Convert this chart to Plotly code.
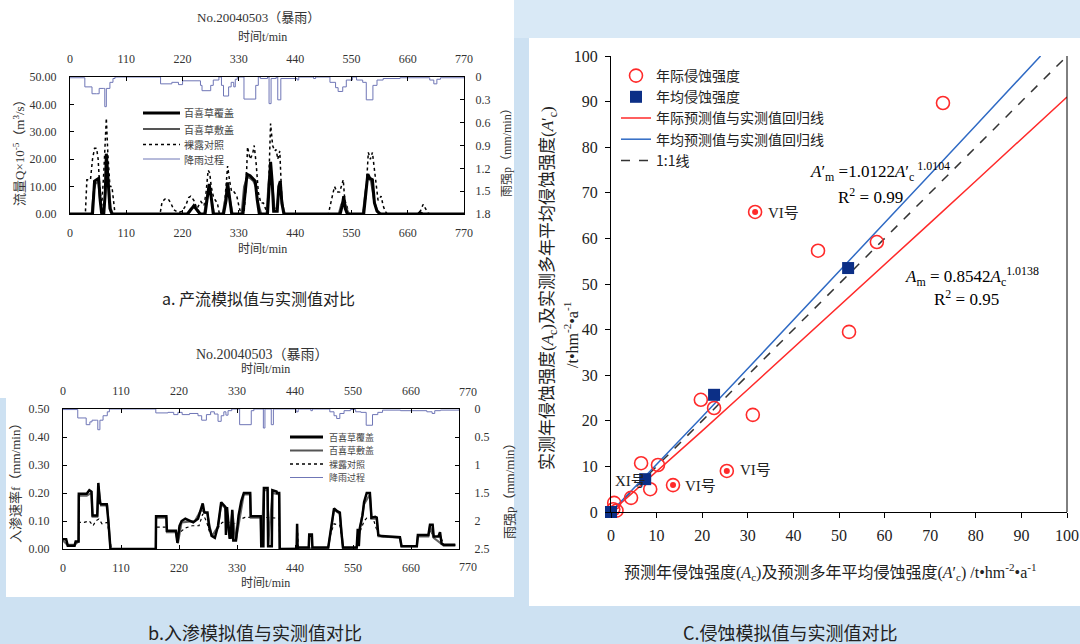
import plotly.graph_objects as go

W, H = 1080, 644

# ---------------- chart a: runoff (t/min, Q x1e-5 m3/s) ----------------
a_cover = [(0,0),(44,0),(46,6),(48,12),(52,12.5),(56,13),(59,5),(62,0),(66,0),(69,8),(71,22),(74,13),(78,2),(82,0),
           (230,0),(236,1.5),(242,3),(248,1.5),(254,0),(264,0),(268,5),(272,11),(276,6),(280,0),(300,0),(305,5),(308,11.5),(312,6),(316,0),
           (338,0),(342,8),(346,14.5),(352,14),(358,13),(362,12),(366,5),(370,0),(386,0),(389,10),(392,19),(395,12),(398,1),(405,1),(408,10),(411,12),(414,4),(418,0),
           (528,0),(532,3),(535,6.5),(538,2),(542,0),(574,0),(578,7),(582,14.5),(586,13),(591,12.5),(595,4),(600,1),(606,0),(680,0),(684,0.5),(690,0),(770,0)]
a_mulch = [(0,0),(42,0),(46,8),(50,11),(55,12),(58,6),(62,1),(66,0),(70,12),(72,20),(76,10),(80,2),(84,0),
           (228,0),(236,2),(242,2.5),(250,1.5),(256,0),(262,0),(267,6),(272,10),(277,5),(282,0),(298,0),(303,6),(308,10.5),(313,5),(318,0),
           (335,0),(340,10),(346,13.5),(352,13),(358,12),(363,10),(368,4),(374,0),(384,0),(388,12),(392,18),(396,11),(400,2),(404,2),(408,9),(411,11),(416,3),(420,0),
           (525,0),(530,3.5),(535,5),(540,2.5),(545,0),(572,0),(577,8),(582,13.5),(588,12),(594,5),(600,1.5),(608,0),(770,0)]
a_bare = [(0,0),(30,0),(33,12.5),(40,12.5),(44,20),(48,24),(52,24),(55,20),(58,10),(62,3),(66,15),(68,25),(71,35),(74,22),(78,10),(82,10),(85,5),(88,0),
          (176,0),(180,4.5),(186,5.5),(192,5.5),(197,4),(203,1.5),(212,0.5),(219,1),(226,3),(232,6),(236,6.5),(242,5),(248,2),(252,3.5),(256,4.5),(262,3),(266,8),(270,16),(273,15),(276,10),(280,6.5),(284,5),(288,4),(292,0),
          (300,0),(304,8),(308,17.5),(312,12),(316,8),(321,8),(326,6.5),(330,3),(334,0),(340,0),(344,10),(347,24.5),(352,20),(357,22),(360,25),(364,18),(368,8),(373,4),(378,4),(382,2),(386,0),
          (389,15),(392,33),(396,25),(400,23),(403,23.5),(406,20),(410,23),(414,5),(418,0),
          (505,0),(512,6),(517,10),(522,8),(527,8),(534,12.5),(537,5),(541,3),(545,0),(572,0),(578,6),(583,22.5),(587,20),(591,22.5),(596,15),(602,5),(608,6.5),(612,3),(616,1),(620,0),
          (680,0),(686,1.5),(690,3.5),(695,2),(700,0.3),(705,0),(770,0)]
a_rain = [(0,0.01),(29,0.13),(43,0.22),(52,0.22),(57,0.15),(65,0.15),(68,0.39),(71,0.15),(78,0.07),(84,0.02),(88,0.0),
          (177,0.09),(199,0.07),(212,0.10),(220,0.05),(255,0.11),(258,0.18),(275,0.11),(280,0.04),(291,0.0),(296,0.11),(300,0.25),
          (310,0.13),(315,0.07),(320,0.13),(323,0.03),(327,0.0),(340,0.29),(363,0.11),(368,0.0),(372,0.02),(386,0.0),(389,0.35),
          (393,0.02),(403,0.0),(406,0.30),(412,0.02),(444,0.04),(447,0.0),(476,0.02),(480,0.0),(508,0.07),(519,0.14),(524,0.19),
          (533,0.13),(540,0.04),(552,0.0),(560,0.04),(572,0.07),(579,0.30),(592,0.11),(600,0.04),(612,0.02),(645,0.01),(703,0.04),
          (711,0.09),(717,0.03),(724,0.01),(770,0.01)]

# ---------------- chart b: infiltration (t/min, f mm/min) ----------------
b_cover = [(0,0.035),(6,0.035),(9,0.012),(22,0.012),(24,0.027),(29.5,0.027),(30,0.197),(45,0.197),(50,0.21),(54,0.205),(56,0.12),(65,0.12),
           (67,0.236),(70,0.165),(72,0.16),(83,0.16),(86,0.1),(90,0),(176,0),(176.5,0.117),(196,0.117),(197,0.065),(214,0.065),(217,0.022),
           (221,0.083),(225,0.1),(232,0.108),(240,0.1),(247,0.095),(256,0.108),(262,0.145),(265,0.163),(268,0.13),(274,0.13),(277,0.08),
           (282,0.047),(288,0.04),(294,0.083),(300,0.167),(306,0.155),(308,0.15),(309,0.05),(311,0.15),(316,0.04),(318,0.04),(321,0.14),
           (323,0.03),(328,0.03),(333,0.12),(338,0.17),(343,0.2),(355,0.2),(356,0.117),(375,0.117),(376,0.01),(380,0.01),(381,0.218),
           (388,0.218),(389,0.01),(396,0.01),(397,0.21),(405,0.205),(406,0.2),(410,0.2),(411,0),(443,0),(444,0.09),(445,0.0),(446,0.005),
           (466,0.005),(467,0.052),(472,0.052),(473,0.005),(503,0.005),(507,0.06),(514,0.145),(520,0.135),(525,0.13),(528,0.06),(531,0.005),
           (557,0.005),(559,0.072),(561,0.01),(563,0.075),(568,0.12),(571,0.168),(576,0.2),(582,0.2),(585,0.112),(592,0.115),(595,0.112),
           (598,0.05),(604,0.046),(639,0.042),(642,0.01),(671,0.01),(673,0.05),(693,0.05),(696,0.087),(701,0.087),(703,0.045),(712,0.045),
           (715,0.06),(718,0.02),(722,0.015),(744,0.015)]
b_mulch = [(0,0.03),(8,0.015),(22,0.015),(29.5,0.027),(30,0.19),(45,0.19),(54,0.2),(56,0.115),(65,0.115),(67,0.225),(72,0.155),(84,0.155),
           (90,0),(176,0),(176.5,0.112),(196,0.112),(197,0.06),(214,0.06),(218,0.02),(225,0.095),(250,0.1),(262,0.14),(274,0.125),(282,0.045),
           (294,0.08),(300,0.16),(308,0.145),(316,0.04),(321,0.135),(328,0.03),(343,0.195),(355,0.195),(356,0.112),(375,0.112),(376,0.01),
           (381,0.21),(388,0.21),(389,0.01),(397,0.2),(410,0.195),(411,0),(503,0.004),(514,0.14),(525,0.125),(531,0.004),(557,0.004),
           (571,0.16),(582,0.195),(585,0.108),(595,0.108),(598,0.045),(639,0.04),(642,0.01),(671,0.01),(673,0.045),(693,0.045),(696,0.082),
           (703,0.04),(722,0.012),(744,0.012)]
b_bare = [(0,0.035),(6,0.035),(9,0.012),(22,0.012),(24,0.027),(29.5,0.027),(30,0.095),(40,0.095),(50,0.1),(57,0.083),(62,0.1),(68,0.107),
          (74,0.09),(84,0.095),(88,0.05),(91.5,0),(176,0),(176.5,0.078),(196,0.078),(197,0.062),(214,0.062),(218,0.03),(222,0.06),(232,0.075),
          (245,0.083),(258,0.083),(265,0.125),(272,0.1),(278,0.06),(285,0.045),(294,0.075),(302,0.095),(315,0.095),(325,0.09),(335,0.105),
          (345,0.113),(380,0.113),(410,0.11),(411,0),(443,0),(445,0.06),(446,0.005),(466,0.005),(467,0.045),(472,0.045),(473,0.005),
          (503,0.005),(507,0.05),(514,0.09),(525,0.085),(531,0.005),(557,0.005),(563,0.06),(571,0.1),(576,0.11),(588,0.11),(594,0.074),
          (600,0.045),(604,0.045),(639,0.04),(642,0.01),(671,0.01),(673,0.045),(693,0.045),(696,0.07),(703,0.04),(715,0.05),(722,0.015),(744,0.015)]
b_rain = [(0,0.01),(28,0.16),(44,0.28),(51,0.23),(55,0.2),(64,0.2),(66,0.37),(70,0.2),(76,0.12),(84,0.05),(88,0.0),(176,0.07),(199,0.06),
          (210,0.1),(218,0.06),(226,0.1),(240,0.08),(256,0.12),(263,0.2),(272,0.1),(280,0.05),(287,0.09),(294,0.22),(300,0.12),(305,0.05),
          (309,0.11),(313,0.03),(320,0.0),(335,0.28),(357,0.03),(362,0.0),(380,0.34),(383,0.0),(395,0.28),(399,0.0),(442,0.05),(446,0.0),
          (470,0.03),(473,0.0),(506,0.05),(514,0.12),(519,0.17),(525,0.08),(533,0.03),(545,0.01),(555,0.05),(565,0.06),(575,0.29),(587,0.1),
          (597,0.06),(606,0.02),(640,0.03),(690,0.05),(700,0.08),(705,0.03),(716,0.02),(751,0.01)]

time_ticks = [0, 110, 220, 330, 440, 550, 660, 770]
a_q_ticks = [0, 10, 20, 30, 40, 50]
a_q_labels = ["0.00", "10.00", "20.00", "30.00", "40.00", "50.00"]
a_p_ticks = [0, 0.3, 0.6, 0.9, 1.2, 1.5, 1.8]
a_p_labels = ["0", "0.3", "0.6", "0.9", "1.2", "1.5", "1.8"]
b_f_ticks = [0, 0.1, 0.2, 0.3, 0.4, 0.5]
b_f_labels = ["0.00", "0.10", "0.20", "0.30", "0.40", "0.50"]
b_p_ticks = [0, 0.5, 1, 1.5, 2, 2.5]
b_p_labels = ["0", "0.5", "1", "1.5", "2", "2.5"]

# ---------------- chart c: erosion ----------------
c_annual_x = [72.8, 31.6, 45.4, 58.3, 52.2, 31.1, 19.7, 22.6, 6.6, 10.3, 8.6, 4.4, 0.7, 0.5, 1.2, 13.6, 25.4]
c_annual_y = [89.7, 65.8, 57.3, 59.2, 39.5, 21.3, 24.6, 22.8, 10.7, 10.3, 5.0, 3.1, 2.0, 0.6, 0.3, 5.9, 9.0]
c_special_x = [31.6, 13.6, 25.4]
c_special_y = [65.8, 5.9, 9.0]
c_mean_x = [0, 7.5, 22.6, 52.0]
c_mean_y = [0, 7.2, 25.7, 53.5]
c_fit_x = [0, 10, 20, 30, 40, 50, 60, 70, 80, 90, 100]
c_fit_annual_y = [0, 8.82, 17.80, 26.86, 35.95, 45.08, 54.23, 63.41, 72.59, 81.81, 91.02]
c_fit_mean_x = [0, 10, 20, 30, 40, 50, 60, 70, 80, 90, 94.2]
c_fit_mean_y = [0, 10.37, 20.88, 31.46, 42.07, 52.71, 63.37, 74.06, 84.75, 95.46, 100]
c_one_x = [0, 100]
c_one_y = [0, 100]
c_ticks = [0, 10, 20, 30, 40, 50, 60, 70, 80, 90, 100]


def split(pairs):
    return [p[0] for p in pairs], [p[1] for p in pairs]


def X(v):
    return v / W


def Y(v):
    return 1 - v / H


SERIF = "Liberation Serif, Noto Sans CJK SC, serif"
CJK = "Noto Sans CJK SC, sans-serif"
RAIN = "#6f76b6"

fig = go.Figure()

def line_trace(pairs, xa, ya, color, width, dash="solid", shape="linear"):
    t, v = split(pairs)
    fig.add_trace(go.Scatter(x=t, y=v, mode="lines", xaxis=xa, yaxis=ya,
                             line=dict(color=color, width=width, dash=dash, shape=shape),
                             showlegend=False, hoverinfo="skip"))

# chart a
line_trace(a_rain, "x2", "y2", RAIN, 1, shape="hv")
line_trace(a_bare, "x", "y", "black", 1.5, dash="dot")
line_trace(a_mulch, "x", "y", "#555555", 1.8)
line_trace(a_cover, "x", "y", "black", 3)
# chart b
line_trace(b_rain, "x4", "y4", RAIN, 1, shape="hv")
line_trace(b_bare, "x3", "y3", "black", 1.2, dash="dot")
line_trace(b_mulch, "x3", "y3", "#666666", 2)
line_trace(b_cover, "x3", "y3", "black", 2.5)

# chart c
fig.add_trace(go.Scatter(x=c_one_x, y=c_one_y, mode="lines", xaxis="x5", yaxis="y5", name="1:1线",
                         line=dict(color="#333333", width=1.5, dash="dash"), legendrank=5, hoverinfo="skip"))
fig.add_trace(go.Scatter(x=c_fit_x, y=c_fit_annual_y, mode="lines", xaxis="x5", yaxis="y5", name="年际预测值与实测值回归线",
                         line=dict(color="#ff2a2a", width=1.5), legendrank=3, hoverinfo="skip"))
fig.add_trace(go.Scatter(x=c_fit_mean_x, y=c_fit_mean_y, mode="lines", xaxis="x5", yaxis="y5", name="年均预测值与实测值回归线",
                         line=dict(color="#2f6ac4", width=1.5), legendrank=4, hoverinfo="skip"))
fig.add_trace(go.Scatter(x=c_annual_x, y=c_annual_y, mode="markers", xaxis="x5", yaxis="y5", name="年际侵蚀强度",
                         marker=dict(symbol="circle-open", size=13, color="#ff2a2a", line=dict(width=1.6)),
                         legendrank=1, hoverinfo="skip", cliponaxis=False))
fig.add_trace(go.Scatter(x=c_special_x, y=c_special_y, mode="markers", xaxis="x5", yaxis="y5",
                         marker=dict(symbol="circle", size=6, color="#ff2a2a"), showlegend=False, hoverinfo="skip"))
fig.add_trace(go.Scatter(x=c_mean_x, y=c_mean_y, mode="markers", xaxis="x5", yaxis="y5", name="年均侵蚀强度",
                         marker=dict(symbol="square", size=12, color="#0c2f86"), legendrank=2, hoverinfo="skip",
                         cliponaxis=False))

left_ax = dict(showline=True, linecolor="black", linewidth=1, ticks="inside", ticklen=4, tickcolor="black",
               showgrid=False, zeroline=False, automargin=False,
               tickfont=dict(family=SERIF, size=12, color="#333333"))
c_ax = dict(showline=True, linecolor="black", linewidth=1, ticks="outside", ticklen=5, tickcolor="black",
            showgrid=False, zeroline=False, automargin=False, ticklabelstandoff=4,
            tickfont=dict(family=SERIF, size=16, color="#222222"))

fig.update_layout(
    width=W, height=H, margin=dict(l=0, r=0, t=0, b=0, autoexpand=False),
    paper_bgcolor="#cde1f2", plot_bgcolor="white",
    showlegend=True,
    legend=dict(x=X(616), y=Y(60), xanchor="left", yanchor="top", bgcolor="rgba(0,0,0,0)",
                font=dict(family=CJK, size=14, color="#222222"), tracegroupgap=0),
    # chart a
    xaxis=dict(domain=[X(70), X(464)], anchor="y", range=[0, 770], tickvals=time_ticks, ticklabelstandoff=8, **left_ax),
    xaxis2=dict(domain=[X(70), X(464)], anchor="y2", overlaying="x", side="top", range=[0, 770], tickvals=time_ticks,
                ticklabelstandoff=8, **left_ax),
    yaxis=dict(domain=[Y(214), Y(77)], anchor="x", range=[0, 50], tickvals=a_q_ticks, ticktext=a_q_labels,
               ticklabelstandoff=10, **left_ax),
    yaxis2=dict(domain=[Y(214), Y(77)], anchor="x2", overlaying="y", side="right", range=[1.8, 0],
                tickvals=a_p_ticks, ticktext=a_p_labels, ticklabelstandoff=8, **left_ax),
    # chart b
    xaxis3=dict(domain=[X(63), X(459)], anchor="y3", range=[0, 751], tickvals=time_ticks[:-1], ticklabelstandoff=8, **left_ax),
    xaxis4=dict(domain=[X(63), X(459)], anchor="y4", overlaying="x3", side="top", range=[0, 751], tickvals=time_ticks[:-1],
                ticklabelstandoff=8, **left_ax),
    yaxis3=dict(domain=[Y(549), Y(409)], anchor="x3", range=[0, 0.5], tickvals=b_f_ticks, ticktext=b_f_labels,
                ticklabelstandoff=10, **left_ax),
    yaxis4=dict(domain=[Y(549), Y(409)], anchor="x4", overlaying="y3", side="right", range=[2.5, 0],
                tickvals=b_p_ticks, ticktext=b_p_labels, ticklabelstandoff=12, **left_ax),
    # chart c
    xaxis5=dict(domain=[X(611), X(1067)], anchor="y5", range=[0, 100], tickvals=c_ticks, **c_ax),
    yaxis5=dict(domain=[Y(512), Y(56)], anchor="x5", range=[0, 100], tickvals=c_ticks, **c_ax),
)

shapes = [
    dict(type="rect", xref="paper", yref="paper", x0=X(0), x1=X(514), y0=Y(597), y1=Y(0),
         fillcolor="white", line=dict(width=0), layer="below"),
    dict(type="rect", xref="paper", yref="paper", x0=X(0), x1=X(6), y0=Y(597), y1=Y(398),
         fillcolor="#cde1f2", line=dict(width=0), layer="below"),
    dict(type="rect", xref="paper", yref="paper", x0=X(529), x1=X(1080), y0=Y(606), y1=Y(38),
         fillcolor="white", line=dict(width=0), layer="below"),
    dict(type="rect", xref="paper", yref="paper", x0=X(514), x1=X(1080), y0=Y(38), y1=Y(0),
         fillcolor="#d9e9f6", line=dict(width=0), layer="below"),
    dict(type="line", xref="paper", yref="paper", x0=X(1067), x1=X(1067), y0=Y(512), y1=Y(56),
         line=dict(color="black", width=1)),
]

annots = []

def txt(text, x, y, size=12, family=CJK, color="#333333", angle=0, xanchor="center"):
    annots.append(dict(text=text, x=X(x), y=Y(y), xref="paper", yref="paper", showarrow=False,
                       font=dict(family=family, size=size, color=color), textangle=angle,
                       xanchor=xanchor, yanchor="middle"))

# manual legends for charts a and b
legend_names = ["百喜草覆盖", "百喜草敷盖", "裸露对照", "降雨过程"]
legend_styles = [("black", 3, "solid"), ("#555555", 2, "solid"), ("black", 1.5, "dot"), (RAIN, 1, "solid")]
for (lx0, lx1, tx, rows, fs) in [(143, 180, 182, [113, 129, 144.5, 159], 10),
                                  (290, 323, 327, [437, 450.5, 464, 477.5], 9)]:
    for name, (col, wd, ds), ry in zip(legend_names, legend_styles, rows):
        shapes.append(dict(type="line", xref="paper", yref="paper", x0=X(lx0), x1=X(lx1), y0=Y(ry), y1=Y(ry),
                           line=dict(color=col, width=wd, dash=ds)))
        txt(name, tx, ry, size=fs, color="#444444", xanchor="left")

# chart a texts
txt("No.20040503（暴雨）", 258, 17, size=13, family=SERIF)
txt("时间t/min", 262, 37, size=12, family=SERIF)
txt("时间t/min", 262, 249, size=12, family=SERIF)
txt("流量Q×10<sup>-5</sup>（m<sup>3</sup>/s）", 19, 150, size=13, family=SERIF, angle=-90)
txt("雨强p（mm/min）", 507, 150, size=12, family=SERIF, angle=-90)
txt("a. 产流模拟值与实测值对比", 258, 298, size=16, color="#222222")

# chart b texts
txt("No.20040503（暴雨）", 262, 354, size=14, family=SERIF)
txt("时间t/min", 265, 369, size=12, family=SERIF)
txt("770", 468, 392, size=12, family=SERIF)
txt("770", 468, 567, size=12, family=SERIF)
txt("时间t/min", 265, 583, size=12, family=SERIF)
txt("入渗速率f（mm/min）", 15, 480, size=13, family=SERIF, angle=-90)
txt("雨强p（mm/min）", 509, 487, size=13, family=SERIF, angle=-90)
txt("b.入渗模拟值与实测值对比", 255, 632, size=18, color="#222222")

# chart c texts
txt("实测年侵蚀强度(<i>A</i><sub>c</sub>)及实测多年平均侵蚀强度(<i>A</i>′<sub>c</sub>)", 549, 288, size=17,
    family=SERIF, color="#222222", angle=-90)
txt("/t•hm<sup>-2</sup>•a<sup>-1</sup>", 571, 335, size=16, family=SERIF, color="#222222", angle=-90)
txt("预测年侵蚀强度(<i>A</i><sub>c</sub>)及预测多年平均侵蚀强度(<i>A</i>′<sub>c</sub>) /t•hm<sup>-2</sup>•a<sup>-1</sup>",
    830, 572, size=16, family=SERIF, color="#222222")
txt("C.侵蚀模拟值与实测值对比", 790, 632, size=18, color="#222222")
txt("<i>A</i>′<sub>m</sub> =1.0122<i>A</i>′<sub>c</sub><sup> 1.0104</sup>", 808, 172, size=17, family=SERIF,
    color="black", xanchor="left")
txt("R<sup>2</sup> = 0.99", 870, 196, size=17, family=SERIF, color="black")
txt("<i>A</i><sub>m</sub> = 0.8542<i>A</i><sub>c</sub><sup>1.0138</sup>", 903, 276, size=17, family=SERIF,
    color="black", xanchor="left")
txt("R<sup>2</sup> = 0.95", 966, 298, size=17, family=SERIF, color="black")
txt("VI号", 766, 213, size=15, family=SERIF, color="#222222", xanchor="left")
txt("VI号", 738, 470, size=15, family=SERIF, color="#222222", xanchor="left")
txt("VI号", 683, 486, size=15, family=SERIF, color="#222222", xanchor="left")
txt("XI号", 613, 481, size=15, family=SERIF, color="#222222", xanchor="left")

fig.update_layout(shapes=shapes, annotations=annots)
fig.write_html("out.html", config={"displayModeBar": False},
               post_script="document.body.style.margin='0px';document.body.style.padding='0px';"
                           "document.documentElement.style.overflow='hidden';")
